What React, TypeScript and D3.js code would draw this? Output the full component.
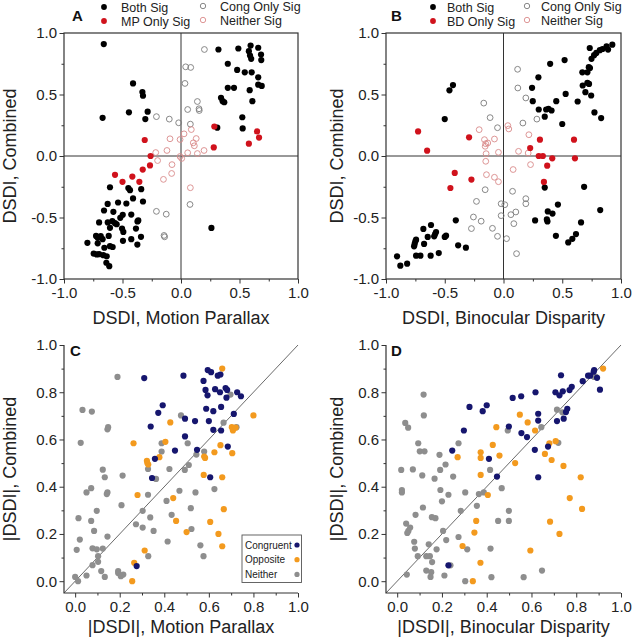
import React, { useEffect, useRef } from 'react';
import * as d3 from 'd3';

type Pt = [number, number];

// Panel A: DSDI motion parallax (x) vs DSDI combined (y)
const aBoth: Pt[] = [
  [-0.66, 0.91], [-0.41, 0.59], [-0.33, 0.52], [-0.325, 0.49], [-0.67, 0.31], [-0.445, 0.355], [-0.285, 0.36], [-0.305, 0.3],
  [0.32, 0.866], [0.49, 0.874], [0.595, 0.898], [0.58, 0.852], [0.59, 0.817], [0.6, 0.79], [0.66, 0.88], [0.684, 0.825],
  [0.686, 0.78], [0.4, 0.75], [0.48, 0.7], [0.545, 0.68], [0.604, 0.68], [0.66, 0.64], [0.4, 0.554], [0.453, 0.554],
  [0.587, 0.535], [0.66, 0.58], [0.69, 0.57], [0.342, 0.473], [0.356, 0.446], [0.37, 0.437], [0.61, 0.446], [0.524, 0.315],
  [0.527, 0.224], [0.31, 0.23],
  [0.26, -0.585],
  [-0.607, -0.254], [-0.45, -0.26], [-0.436, -0.278], [-0.34, -0.27], [-0.41, -0.345], [-0.325, -0.37], [-0.627, -0.39],
  [-0.538, -0.378], [-0.467, -0.386], [-0.658, -0.443], [-0.578, -0.454], [-0.498, -0.478], [-0.519, -0.503], [-0.425, -0.476],
  [-0.365, -0.524], [-0.372, -0.532], [-0.7, -0.54], [-0.626, -0.54], [-0.587, -0.53], [-0.564, -0.546], [-0.55, -0.555],
  [-0.607, -0.584], [-0.504, -0.59], [-0.493, -0.617], [-0.385, -0.59], [-0.726, -0.65], [-0.712, -0.665], [-0.686, -0.652],
  [-0.67, -0.676], [-0.618, -0.65], [-0.425, -0.676], [-0.496, -0.69], [-0.342, -0.657], [-0.8, -0.706], [-0.712, -0.71],
  [-0.655, -0.746], [-0.607, -0.733], [-0.584, -0.74], [-0.373, -0.72], [-0.746, -0.793], [-0.72, -0.8], [-0.7, -0.798],
  [-0.664, -0.806], [-0.635, -0.815], [-0.638, -0.868], [-0.613, -0.896],
];
const aMpOnly: Pt[] = [
  [-0.31, 0.13], [-0.26, 0.0], [-0.265, -0.077], [-0.327, -0.11], [-0.564, -0.153], [-0.5, -0.21], [-0.416, -0.167],
  [-0.356, -0.21], [0.285, 0.24], [0.28, 0.07], [0.58, 0.1], [0.65, 0.2], [0.667, 0.15],
];
const aCongOnly: Pt[] = [
  [0.2, 0.866], [0.04, 0.725], [0.083, 0.72], [0.034, 0.59], [0.14, 0.443], [0.057, 0.378], [0.154, 0.384], [0.156, 0.37],
  [-0.02, 0.27], [0.08, 0.259], [-0.21, 0.32], [-0.1, 0.3], [-0.21, -0.45], [-0.126, -0.473], [-0.145, -0.646],
  [-0.14, -0.657], [0.077, -0.394],
];
const aNeither: Pt[] = [
  [0.088, 0.215], [0.026, 0.18], [0.13, 0.142], [0.105, 0.107], [0.114, 0.083], [-0.008, 0.134], [-0.094, 0.14],
  [0.057, 0.026], [0.14, 0.02], [0.197, 0.045], [-0.008, -0.004], [0.006, -0.02], [-0.12, 0.045], [-0.216, 0.028],
  [-0.2, -0.037], [-0.077, -0.07], [-0.08, -0.142], [-0.15, -0.19], [0.08, -0.258],
];

// Panel B: DSDI binocular disparity (x) vs DSDI combined (y)
const bBoth: Pt[] = [
  [-0.43, 0.577], [-0.46, 0.534], [-0.5, 0.3],
  [0.734, 0.878], [0.926, 0.905], [0.877, 0.892], [0.89, 0.865], [0.843, 0.87], [0.82, 0.86], [0.79, 0.838], [0.771, 0.82],
  [0.749, 0.79], [0.726, 0.722], [0.671, 0.68], [0.714, 0.68], [0.397, 0.749], [0.52, 0.78], [0.297, 0.64], [0.243, 0.554],
  [0.714, 0.595], [0.728, 0.586], [0.674, 0.573], [0.529, 0.505], [0.697, 0.519], [0.746, 0.492], [0.631, 0.443],
  [0.449, 0.446], [0.249, 0.446], [0.3, 0.378], [0.363, 0.378], [0.383, 0.384], [0.409, 0.37], [0.351, 0.32], [0.5, 0.26],
  [0.774, 0.354], [0.831, 0.308], [0.736, 0.715],
  [0.351, -0.257], [0.686, -0.251], [0.463, -0.395], [0.377, -0.451], [0.417, -0.468], [0.369, -0.516], [0.374, -0.532],
  [0.269, -0.524], [0.823, -0.44], [0.66, -0.54], [0.446, -0.649], [0.617, -0.635], [0.586, -0.673], [0.551, -0.703],
  [-0.906, -0.816], [-0.878, -0.892], [-0.82, -0.875], [-0.744, -0.81], [-0.707, -0.81], [-0.761, -0.734], [-0.756, -0.715],
  [-0.75, -0.694], [-0.744, -0.68], [-0.676, -0.715], [-0.682, -0.593], [-0.645, -0.658], [-0.617, -0.561], [-0.59, -0.653],
  [-0.582, -0.634], [-0.62, -0.81], [-0.574, -0.618], [-0.551, -0.789], [-0.5, -0.658], [-0.489, -0.648], [-0.406, -0.523],
  [-0.386, -0.726], [-0.32, -0.745],
];
const bBdOnly: Pt[] = [
  [-0.727, 0.2], [-0.65, 0.043], [-0.293, 0.152], [-0.415, -0.138], [-0.452, -0.26], [-0.273, -0.192], [0.31, 0.133],
  [0.6, 0.133], [0.227, 0.065], [0.3, 0.0], [0.335, 0.0], [0.415, -0.019], [0.608, -0.019], [0.372, -0.079], [0.344, -0.211],
];
const bCongOnly: Pt[] = [
  [-0.168, 0.43], [-0.114, 0.312], [-0.051, 0.23], [0.12, 0.705], [0.122, 0.553], [0.19, 0.472], [0.165, 0.268], [0.284, 0.3],
  [-0.156, -0.274], [-0.23, -0.369], [-0.256, -0.496], [-0.273, -0.59], [-0.19, -0.53], [-0.094, -0.588], [-0.051, -0.653],
  [-0.02, -0.388], [0.011, -0.396], [0.026, -0.672], [0.077, -0.287], [0.063, -0.477], [0.105, -0.455], [0.088, -0.55],
  [0.19, -0.347], [0.19, -0.388], [0.111, -0.794], [-0.02, -0.485],
];
const bNeither: Pt[] = [
  [-0.207, 0.214], [-0.162, 0.133], [-0.134, 0.106], [-0.151, 0.1], [-0.156, 0.079], [-0.077, 0.138], [-0.148, 0.019],
  [-0.043, 0.03], [-0.151, -0.043], [-0.145, -0.152], [-0.077, -0.173], [-0.043, -0.209], [0.037, 0.247], [0.045, 0.22],
  [0.128, 0.038], [0.21, 0.024], [0.216, 0.173], [0.23, -0.07], [0.082, -0.11],
];

// Panel C: |DSDI| motion parallax vs |DSDI| combined
const cCongruent: Pt[] = [
  [0.31, 0.86], [0.486, 0.87], [0.595, 0.894], [0.61, 0.885], [0.64, 0.87], [0.652, 0.875], [0.576, 0.848], [0.585, 0.81],
  [0.594, 0.787], [0.628, 0.813], [0.65, 0.8], [0.675, 0.818], [0.682, 0.81], [0.679, 0.777], [0.727, 0.8], [0.744, 0.783],
  [0.373, 0.713], [0.393, 0.745], [0.339, 0.655], [0.493, 0.688], [0.538, 0.678], [0.588, 0.73], [0.62, 0.72], [0.6, 0.678],
  [0.655, 0.738], [0.712, 0.708], [0.62, 0.641], [0.655, 0.638], [0.685, 0.57], [0.493, 0.613], [0.448, 0.553],
  [0.358, 0.518], [0.345, 0.437], [0.547, 0.556], [0.606, 0.44], [0.276, 0.064],
];
const cOpposite: Pt[] = [
  [0.66, 0.9], [0.8, 0.702], [0.703, 0.652], [0.708, 0.638], [0.72, 0.65], [0.705, 0.542], [0.652, 0.576], [0.625, 0.546],
  [0.579, 0.528], [0.583, 0.522], [0.577, 0.45], [0.66, 0.44], [0.667, 0.305], [0.606, 0.251], [0.643, 0.2], [0.66, 0.148],
  [0.5, 0.208], [0.453, 0.255], [0.44, 0.352], [0.427, 0.672], [0.405, 0.59], [0.378, 0.525], [0.324, 0.5], [0.328, 0.494],
  [0.322, 0.51], [0.262, 0.584], [0.28, 0.365], [0.312, 0.13], [0.265, 0.078], [0.256, 0.0],
];
const cNeither: Pt[] = [
  [0.19, 0.865], [0.033, 0.725], [0.075, 0.718], [0.025, 0.586], [0.145, 0.643], [0.148, 0.652], [0.124, 0.472],
  [0.133, 0.44], [0.051, 0.376], [0.072, 0.394], [0.145, 0.376], [0.142, 0.369], [0.015, 0.267], [0.021, 0.176],
  [0.007, 0.133], [0.0, 0.018], [0.013, 0.0], [0.051, 0.024], [0.072, 0.255], [0.085, 0.213], [0.097, 0.298],
  [0.078, 0.139], [0.097, 0.135], [0.103, 0.106], [0.103, 0.082], [0.078, 0.068], [0.117, 0.043], [0.133, 0.018],
  [0.124, 0.138], [0.145, 0.189], [0.193, 0.043], [0.193, 0.035], [0.205, 0.021], [0.216, 0.028], [0.208, 0.322],
  [0.213, 0.447], [0.327, 0.366], [0.327, 0.475], [0.363, 0.433], [0.273, 0.241], [0.303, 0.298], [0.303, 0.227],
  [0.337, 0.27], [0.352, 0.213], [0.328, 0.106], [0.41, 0.34], [0.423, 0.475], [0.433, 0.281], [0.388, 0.549],
  [0.388, 0.584], [0.475, 0.702], [0.468, 0.383], [0.492, 0.471], [0.505, 0.584], [0.51, 0.492], [0.519, 0.309],
  [0.522, 0.221], [0.54, 0.376], [0.544, 0.536], [0.579, 0.549], [0.562, 0.152], [0.576, 0.106], [0.625, 0.39],
  [0.666, 0.671], [0.697, 0.79], [0.724, 0.652], [0.415, 0.168],
];

// Panel D: |DSDI| binocular disparity vs |DSDI| combined
const dCongruent: Pt[] = [
  [0.88, 0.894], [0.878, 0.887], [0.893, 0.861], [0.906, 0.811], [0.853, 0.87], [0.862, 0.87], [0.829, 0.847], [0.78, 0.823],
  [0.77, 0.809], [0.732, 0.872], [0.74, 0.804], [0.725, 0.787], [0.707, 0.8], [0.618, 0.8], [0.554, 0.783], [0.516, 0.776],
  [0.4, 0.745], [0.382, 0.72], [0.323, 0.738], [0.298, 0.638], [0.246, 0.553], [0.499, 0.655], [0.555, 0.627], [0.58, 0.61],
  [0.615, 0.556], [0.63, 0.709], [0.63, 0.68], [0.674, 0.57], [0.714, 0.678], [0.744, 0.688], [0.754, 0.716], [0.76, 0.73],
  [0.41, 0.518], [0.446, 0.443], [0.63, 0.44], [0.229, 0.067],
];
const dOpposite: Pt[] = [
  [0.92, 0.9], [0.548, 0.705], [0.583, 0.672], [0.443, 0.652], [0.616, 0.638], [0.427, 0.577], [0.457, 0.532],
  [0.373, 0.546], [0.373, 0.522], [0.27, 0.525], [0.373, 0.45], [0.405, 0.365], [0.527, 0.5], [0.66, 0.539], [0.68, 0.584],
  [0.708, 0.593], [0.69, 0.513], [0.743, 0.488], [0.82, 0.44], [0.771, 0.352], [0.826, 0.306], [0.683, 0.252], [0.725, 0.2],
  [0.595, 0.13], [0.353, 0.255], [0.345, 0.206], [0.292, 0.149], [0.372, 0.078], [0.338, 0.0],
];
const dNeither: Pt[] = [
  [0.118, 0.79], [0.119, 0.702], [0.036, 0.67], [0.049, 0.65], [0.094, 0.584], [0.101, 0.55], [0.122, 0.55], [0.018, 0.471],
  [0.021, 0.386], [0.021, 0.376], [0.07, 0.473], [0.112, 0.448], [0.189, 0.535], [0.192, 0.471], [0.167, 0.434],
  [0.193, 0.386], [0.2, 0.338], [0.216, 0.494], [0.229, 0.366], [0.25, 0.443], [0.274, 0.584], [0.115, 0.312],
  [0.082, 0.281], [0.04, 0.244], [0.05, 0.213], [0.045, 0.204], [0.058, 0.227], [0.155, 0.271], [0.171, 0.267],
  [0.205, 0.213], [0.219, 0.174], [0.076, 0.167], [0.079, 0.138], [0.092, 0.106], [0.13, 0.106], [0.146, 0.106],
  [0.141, 0.156], [0.176, 0.135], [0.156, 0.081], [0.13, 0.045], [0.152, 0.038], [0.149, 0.018], [0.211, 0.024],
  [0.043, 0.028], [0.238, 0.067], [0.274, 0.187], [0.284, 0.298], [0.304, 0.376], [0.304, 0.0], [0.313, 0.135],
  [0.356, 0.319], [0.365, 0.369], [0.387, 0.376], [0.415, 0.471], [0.417, 0.138], [0.421, 0.017], [0.451, 0.255],
  [0.467, 0.394], [0.499, 0.298], [0.499, 0.255], [0.494, 0.638], [0.644, 0.652], [0.565, 0.017], [0.647, 0.045],
  [0.714, 0.726], [0.72, 0.586], [0.738, 0.715], [0.88, 0.865], [0.888, 0.865],
];

const signedTicks = [-1, -0.5, 0, 0.5, 1];
const signedMinor = [-0.75, -0.25, 0.25, 0.75];
const absTicks = [0, 0.2, 0.4, 0.6, 0.8, 1];
const absMinor = [0.1, 0.3, 0.5, 0.7, 0.9];

const legendA = ['Both Sig', 'MP Only Sig', 'Cong Only Sig', 'Neither Sig'];
const legendB = ['Both Sig', 'BD Only Sig', 'Cong Only Sig', 'Neither Sig'];
const legendC = ['Congruent', 'Opposite', 'Neither'];

const FONT = "'Liberation Sans', Arial, Helvetica, sans-serif";
const BLACK = '#000';
const RED = '#d0121c';
const RING_GREY = '#7a7a7a';
const RING_PINK = '#d98a8a';
const NAVY = '#16166e';
const ORANGE = '#f39a1e';
const GREY = '#8e8e8e';

type Series = { data: Pt[]; color: string; open?: boolean };

type Panel = {
  left: number; right: number; top: number; bottom: number;
  domain: [number, number];
  signed: boolean;
  ticks: number[]; minor: number[];
  series: Series[];
  xTitle: string; yTitle: string; yTitleX: number; xTitleY: number;
  letter: string; letterX: number; letterY: number;
};

const panels: Panel[] = [
  {
    left: 64, right: 298, top: 33, bottom: 279, domain: [-1, 1], signed: true,
    ticks: signedTicks, minor: signedMinor,
    series: [
      { data: aCongOnly, color: RING_GREY, open: true },
      { data: aNeither, color: RING_PINK, open: true },
      { data: aBoth, color: BLACK },
      { data: aMpOnly, color: RED },
    ],
    xTitle: 'DSDI, Motion Parallax', yTitle: 'DSDI, Combined', yTitleX: 16, xTitleY: 324,
    letter: 'A', letterX: 72, letterY: 21,
  },
  {
    left: 386, right: 621, top: 33, bottom: 279, domain: [-1, 1], signed: true,
    ticks: signedTicks, minor: signedMinor,
    series: [
      { data: bCongOnly, color: RING_GREY, open: true },
      { data: bNeither, color: RING_PINK, open: true },
      { data: bBoth, color: BLACK },
      { data: bBdOnly, color: RED },
    ],
    xTitle: 'DSDI, Binocular Disparity', yTitle: 'DSDI, Combined', yTitleX: 343, xTitleY: 324,
    letter: 'B', letterX: 391, letterY: 21,
  },
  {
    left: 64, right: 298, top: 345, bottom: 593, domain: [-0.05, 1], signed: false,
    ticks: absTicks, minor: absMinor,
    series: [
      { data: cNeither, color: GREY },
      { data: cOpposite, color: ORANGE },
      { data: cCongruent, color: NAVY },
    ],
    xTitle: '|DSDI|, Motion Parallax', yTitle: '|DSDI|, Combined', yTitleX: 16, xTitleY: 633,
    letter: 'C', letterX: 70, letterY: 356,
  },
  {
    left: 386, right: 621, top: 345, bottom: 593, domain: [-0.05, 1], signed: false,
    ticks: absTicks, minor: absMinor,
    series: [
      { data: dNeither, color: GREY },
      { data: dOpposite, color: ORANGE },
      { data: dCongruent, color: NAVY },
    ],
    xTitle: '|DSDI|, Binocular Disparity', yTitle: '|DSDI|, Combined', yTitleX: 343, xTitleY: 633,
    letter: 'D', letterX: 391, letterY: 356,
  },
];

function drawPanel(svg: any, p: Panel) {
  const x = d3.scaleLinear().domain(p.domain).range([p.left, p.right]);
  const y = d3.scaleLinear().domain(p.domain).range([p.bottom, p.top]);
  const g = svg.append('g');

  // reference lines
  if (p.signed) {
    g.append('line')
      .attr('x1', x(0)).attr('x2', x(0)).attr('y1', p.top).attr('y2', p.bottom)
      .attr('stroke', '#333').attr('stroke-width', 1);
    g.append('line')
      .attr('x1', p.left).attr('x2', p.right).attr('y1', y(0)).attr('y2', y(0))
      .attr('stroke', '#333').attr('stroke-width', 1);
  } else {
    g.append('line')
      .attr('x1', x(p.domain[0])).attr('y1', y(p.domain[0]))
      .attr('x2', x(1)).attr('y2', y(1))
      .attr('stroke', '#444').attr('stroke-width', 0.8);
  }

  // points
  p.series.forEach(s => {
    g.append('g').selectAll('circle')
      .data(s.data)
      .join('circle')
      .attr('cx', (d: Pt) => x(d[0]))
      .attr('cy', (d: Pt) => y(d[1]))
      .attr('r', s.open ? 2.9 : 3.1)
      .attr('fill', s.open ? 'none' : s.color)
      .attr('stroke', s.open ? s.color : 'none')
      .attr('stroke-width', 0.9);
  });

  // axes, ticks pointing outward
  const fmt = (d: any) => (+d).toFixed(1);
  const yAxis = g.append('g').attr('transform', `translate(${p.left},0)`)
    .call(d3.axisLeft(y).tickValues(p.ticks).tickSize(4.5).tickSizeOuter(0).tickPadding(2.5).tickFormat(fmt));
  yAxis.append('g')
    .call(d3.axisLeft(y).tickValues(p.minor).tickSize(2.5).tickSizeOuter(0).tickFormat(() => ''));
  const xAxis = g.append('g').attr('transform', `translate(0,${p.bottom})`)
    .call(d3.axisBottom(x).tickValues(p.ticks).tickSize(4.5).tickSizeOuter(0).tickPadding(3.5).tickFormat(fmt));
  xAxis.append('g')
    .call(d3.axisBottom(x).tickValues(p.minor).tickSize(2.5).tickSizeOuter(0).tickFormat(() => ''));
  [yAxis, xAxis].forEach(a => {
    a.selectAll('.domain').remove();
    a.selectAll('line').attr('stroke', '#333');
    a.selectAll('text').attr('font-size', 15).attr('font-family', FONT).attr('fill', '#222');
  });

  // frame
  if (p.signed) {
    g.append('rect')
      .attr('x', p.left).attr('y', p.top)
      .attr('width', p.right - p.left).attr('height', p.bottom - p.top)
      .attr('fill', 'none').attr('stroke', '#333').attr('stroke-width', 1.2);
  } else {
    g.append('path')
      .attr('d', `M${p.left},${p.top}V${p.bottom}H${p.right}`)
      .attr('fill', 'none').attr('stroke', '#333').attr('stroke-width', 1.2);
  }

  // titles
  g.append('text')
    .attr('x', (p.left + p.right) / 2).attr('y', p.xTitleY)
    .attr('text-anchor', 'middle').attr('font-size', 18).attr('font-family', FONT).attr('fill', '#222')
    .text(p.xTitle);
  g.append('text')
    .attr('transform', `translate(${p.yTitleX},${(p.top + p.bottom) / 2}) rotate(-90)`)
    .attr('text-anchor', 'middle').attr('font-size', 18).attr('font-family', FONT).attr('fill', '#222')
    .text(p.yTitle);
  g.append('text')
    .attr('x', p.letterX).attr('y', p.letterY)
    .attr('font-size', 15).attr('font-weight', 'bold').attr('font-family', FONT).attr('fill', '#111')
    .text(p.letter);
}

function drawTopLegend(svg: any, labels: string[], symX: number, symX2: number, gap: number) {
  const items = [
    { label: labels[0], color: BLACK, open: false, sx: symX, cy: 7 },
    { label: labels[1], color: RED, open: false, sx: symX, cy: 21 },
    { label: labels[2], color: RING_GREY, open: true, sx: symX2, cy: 6 },
    { label: labels[3], color: RING_PINK, open: true, sx: symX2, cy: 20 },
  ];
  const g = svg.append('g');
  items.forEach(it => {
    g.append('circle')
      .attr('cx', it.sx).attr('cy', it.cy).attr('r', it.open ? 2.7 : 2.9)
      .attr('fill', it.open ? 'none' : it.color)
      .attr('stroke', it.open ? it.color : 'none').attr('stroke-width', 0.9);
    g.append('text')
      .attr('x', it.sx + gap).attr('y', it.cy + 4.5)
      .attr('font-size', 12.5).attr('font-family', FONT).attr('fill', '#222')
      .text(it.label);
  });
}

function drawBoxLegend(svg: any) {
  const g = svg.append('g');
  g.append('rect')
    .attr('x', 242).attr('y', 535).attr('width', 59.5).attr('height', 47.5)
    .attr('fill', '#fff').attr('stroke', '#555').attr('stroke-width', 0.9);
  const colors = [NAVY, ORANGE, GREY];
  legendC.forEach((label, i) => {
    const cy = 545 + i * 14.7;
    g.append('text')
      .attr('x', 245).attr('y', cy + 3.5)
      .attr('font-size', 10).attr('font-family', FONT).attr('fill', '#222')
      .text(label);
    g.append('circle').attr('cx', 297).attr('cy', cy).attr('r', 2.6).attr('fill', colors[i]);
  });
}

const App = () => {
  const ref = useRef<SVGSVGElement>(null);

  useEffect(() => {
    const svg = d3.select(ref.current);
    svg.selectAll('*').remove();
    svg.append('rect').attr('width', 633).attr('height', 640).attr('fill', '#fff');
    panels.forEach(p => drawPanel(svg, p));
    drawTopLegend(svg, legendA, 104, 203, 17);
    drawTopLegend(svg, legendB, 433, 527, 14);
    drawBoxLegend(svg);
  }, []);

  return (
    <svg ref={ref} width={633} height={640} style={{ position: 'absolute', left: 0, top: 0 }} />
  );
};

export default App;
